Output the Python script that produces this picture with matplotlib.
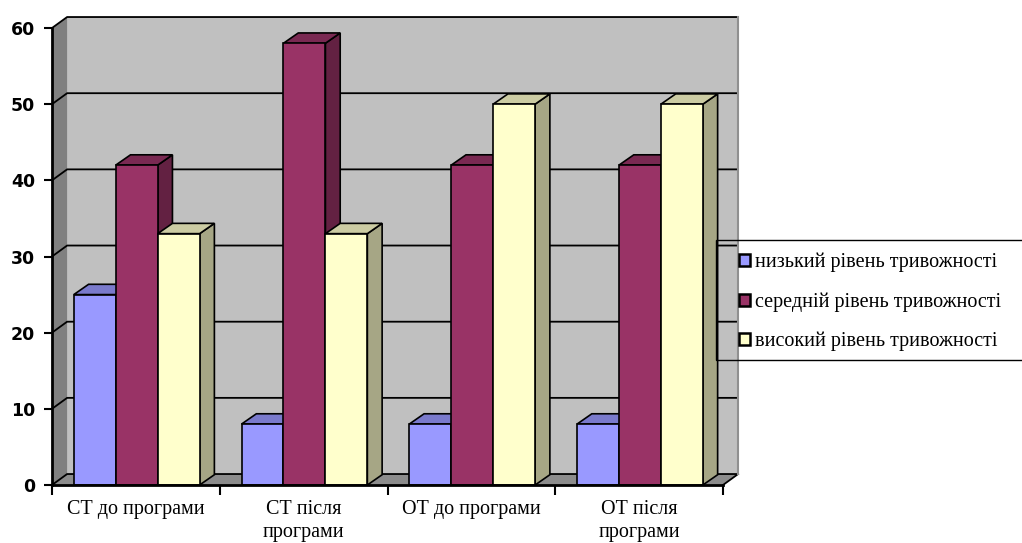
import matplotlib.pyplot as plt
from matplotlib.patches import Polygon, Rectangle, Patch
import matplotlib.colors as mcolors

# Data
categories = ['СТ до програми', 'СТ після\nпрограми', 'ОТ до програми', 'ОТ після\nпрограми']
series_names = ['низький рівень тривожності', 'середній рівень тривожності', 'високий рівень тривожності']
low = [25, 8, 8, 8]
mid = [42, 58, 42, 42]
high = [33, 33, 50, 50]
colors = ['#9999FF', '#993366', '#FFFFCC']
yticks = [0, 10, 20, 30, 40, 50, 60]

series = [low, mid, high]


def shade(c, f):
    r, g, b = mcolors.to_rgb(c)
    return (r * f, g * f, b * f)


fig = plt.figure(figsize=(10.22, 5.43), dpi=100)
ax = fig.add_axes([52 / 1022, 58 / 543, 671 / 1022, 457 / 543])
ax.set_xlim(0, 4)
ax.set_ylim(0, 60)
ax.patch.set_visible(False)

# 3D depth offsets (in data units)
dx, dy = 0.09, 1.44
bdx, bdy = 0.088, 1.35

# walls and floor
ax.add_patch(Polygon([(dx, dy), (4 + dx, dy), (4 + dx, 60 + dy), (dx, 60 + dy)],
                     closed=True, fc='#C0C0C0', ec='none', clip_on=False, zorder=0))
ax.add_patch(Polygon([(0, 0), (dx, dy), (dx, 60 + dy), (0, 60)],
                     closed=True, fc='#808080', ec='none', clip_on=False, zorder=0))
ax.add_patch(Polygon([(0, 0), (4, 0), (4 + dx, dy), (dx, dy)],
                     closed=True, fc='#8C8C8C', ec='none', clip_on=False, zorder=0))
for v in yticks:
    ax.plot([0, dx, 4 + dx], [v, v + dy, v + dy], color='black', lw=1.3,
            clip_on=False, zorder=1)
ax.plot([4, 4 + dx], [0, dy], color='black', lw=1.3, clip_on=False, zorder=1)
ax.plot([4 + dx, 4 + dx], [dy, 60 + dy], color='#909090', lw=1.5, clip_on=False, zorder=1)

# bars
width = 0.25
start = 0.13
z = 2
for i in range(len(categories)):
    for j, vals in enumerate(series):
        v = vals[i]
        x0 = i + start + j * width
        x1 = x0 + width
        c = colors[j]
        ax.add_patch(Polygon([(x1, 0), (x1 + bdx, bdy), (x1 + bdx, v + bdy), (x1, v)],
                             closed=True, fc=shade(c, 0.65), ec='black', lw=1.2,
                             clip_on=False, zorder=z))
        ax.add_patch(Polygon([(x0, v), (x1, v), (x1 + bdx, v + bdy), (x0 + bdx, v + bdy)],
                             closed=True, fc=shade(c, 0.8), ec='black', lw=1.2,
                             clip_on=False, zorder=z))
        ax.bar(x0, v, width=width, align='edge', color=c, edgecolor='black',
               linewidth=1.2, zorder=z + 0.1)
        z += 0.2

# axes styling
for s in ['top', 'right']:
    ax.spines[s].set_visible(False)
ax.spines['left'].set_linewidth(2)
ax.spines['bottom'].set_linewidth(2)
ax.spines['left'].set_zorder(20)
ax.spines['bottom'].set_zorder(20)
ax.set_yticks(yticks)
ax.set_yticklabels([str(t) for t in yticks], fontweight='bold', fontsize=12.5)
ax.tick_params(axis='y', direction='out', length=6, width=1.5, pad=6)
ax.set_xticks([0, 1, 2, 3, 4])
ax.set_xticklabels([])
ax.tick_params(axis='x', which='major', direction='out', length=7, width=1.5)
ax.set_xticks([0.5, 1.5, 2.5, 3.5], minor=True)
ax.set_xticklabels(categories, minor=True, family='Liberation Serif', fontsize=14.5,
                   linespacing=1.3)
ax.tick_params(axis='x', which='minor', length=0, pad=11)

# legend
handles = [Patch(facecolor=c, edgecolor='black', linewidth=1.8) for c in colors]
fig.legend(handles, series_names, loc='upper left',
           bbox_to_anchor=(739 / 1022, 1 - 253 / 543), frameon=False,
           prop={'family': 'Liberation Serif', 'size': 14.5},
           handlelength=0.55, handleheight=0.55, handletextpad=0.25,
           labelspacing=0.98, borderaxespad=0, borderpad=0)
fig.patches.append(Rectangle((716 / 1022, 1 - 360 / 543), 0.4, 120 / 543,
                             transform=fig.transFigure, fill=False,
                             ec='black', lw=1))

fig.savefig('out.png', dpi=100)
